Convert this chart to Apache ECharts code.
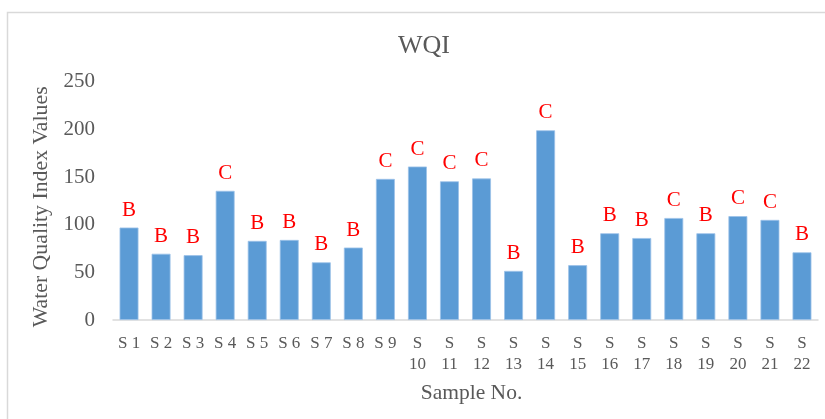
<!DOCTYPE html>
<html>
<head>
<meta charset="utf-8">
<script src="https://cdn.jsdelivr.net/npm/echarts@6/dist/echarts.min.js"></script>
<style>
  html, body { margin: 0; padding: 0; background: #fff; }
  #chart { width: 825px; height: 419px; }
</style>
</head>
<body>
<div id="chart"></div>
<script>
// Sample stations along the x axis
const samples = ['S 1','S 2','S 3','S 4','S 5','S 6','S 7','S 8','S 9','S 10','S 11',
                 'S 12','S 13','S 14','S 15','S 16','S 17','S 18','S 19','S 20','S 21','S 22'];
// Water Quality Index value for each sample
const wqiValues = [97, 69.5, 68, 135.5, 83, 84, 60.5, 76, 148, 161, 145.5,
                   148.5, 51.5, 199, 57.5, 91, 86, 107, 91, 109, 105, 71];
// Water quality class shown above each bar
const grades = ['B','B','B','C','B','B','B','B','C','C','C',
                'C','B','C','B','B','B','C','B','C','C','B'];
// Value axis ticks
const yTicks = [0, 50, 100, 150, 200, 250];

const serif = '"Liberation Serif", "Times New Roman", serif';
const textGray = '#595959';

const chart = echarts.init(document.getElementById('chart'), null, { renderer: 'canvas' });

chart.setOption({
  animation: false,
  backgroundColor: '#ffffff',
  graphic: [{
    type: 'rect',
    shape: { x: 7.5, y: 12.5, width: 1000, height: 1000 },
    style: { fill: 'none', stroke: '#d9d9d9', lineWidth: 1.5 },
    silent: true
  }],
  title: {
    text: 'WQI',
    left: 393,
    top: 28,
    textStyle: { fontFamily: serif, fontSize: 26, fontWeight: 'normal', color: textGray }
  },
  grid: { left: 113, right: 7, top: 81.7, bottom: 99, containLabel: false },
  xAxis: {
    type: 'category',
    data: samples,
    name: 'Sample No.',
    nameLocation: 'middle',
    nameGap: 62,
    nameTextStyle: { fontFamily: serif, fontSize: 21.5, color: textGray, padding: [0, 0, 0, 12] },
    axisLine: { lineStyle: { color: '#d9d9d9', width: 1.5 } },
    axisTick: { show: false },
    axisLabel: {
      interval: 0,
      margin: 13,
      fontFamily: serif,
      fontSize: 17,
      lineHeight: 21,
      color: textGray,
      formatter: (v) => v.length > 3 ? v.replace(' ', '\n') : v
    }
  },
  yAxis: {
    type: 'value',
    min: yTicks[0],
    max: yTicks[yTicks.length - 1],
    interval: yTicks[1] - yTicks[0],
    name: 'Water Quality Index Values',
    nameLocation: 'middle',
    nameGap: 57,
    nameTextStyle: { fontFamily: serif, fontSize: 21.8, color: textGray, padding: [0, 12, 0, 0] },
    axisLine: { show: false },
    axisTick: { show: false },
    splitLine: { show: false },
    axisLabel: { margin: 18, fontFamily: serif, fontSize: 21, color: textGray }
  },
  series: [{
    type: 'bar',
    data: wqiValues,
    barWidth: '59%',
    itemStyle: { color: '#5b9bd5', borderColor: '#9cc2e8', borderWidth: 0.8 },
    label: {
      show: true,
      position: 'top',
      distance: 7,
      fontFamily: serif,
      fontSize: 21,
      color: '#ff0000',
      formatter: (p) => grades[p.dataIndex]
    }
  }]
});
</script>
</body>
</html>
